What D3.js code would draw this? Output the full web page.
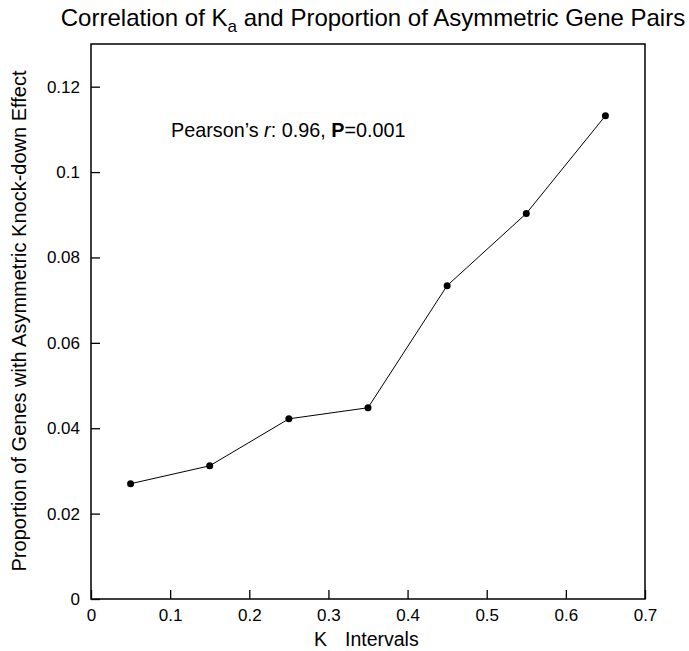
<!DOCTYPE html>
<html>
<head>
<meta charset="utf-8">
<script src="https://cdn.jsdelivr.net/npm/d3@7/dist/d3.min.js"></script>
<style>
  body { margin: 0; background: #fff; }
  text { font-family: "Liberation Sans", Arial, sans-serif; fill: #000; }
</style>
</head>
<body>
<svg width="689" height="651"></svg>
<script>
const intervals = [0.05, 0.15, 0.25, 0.35, 0.45, 0.55, 0.65];
const proportions = [0.027, 0.0312, 0.0422, 0.0448, 0.0734, 0.0903, 0.1132];
const xTicks = [0, 0.1, 0.2, 0.3, 0.4, 0.5, 0.6, 0.7];
const yTicks = [0, 0.02, 0.04, 0.06, 0.08, 0.1, 0.12];

const svg = d3.select('svg');
const margin = { top: 44, right: 44, bottom: 52, left: 91 };
const width = +svg.attr('width');
const height = +svg.attr('height');
const innerWidth = width - margin.left - margin.right;
const innerHeight = height - margin.top - margin.bottom;

const xScale = d3.scaleLinear().domain([0, 0.7]).range([0, innerWidth]);
const yScale = d3.scaleLinear().domain([0, 0.13]).range([innerHeight, 0]);

const g = svg.append('g')
    .attr('transform', `translate(${margin.left},${margin.top})`);

// frame
g.append('rect')
    .attr('width', innerWidth)
    .attr('height', innerHeight)
    .attr('fill', 'none')
    .attr('stroke', '#000')
    .attr('stroke-width', 1.5);

const styleTicks = sel => {
    sel.select('.domain').remove();
    sel.selectAll('.tick line').attr('stroke-width', 1.3);
    sel.selectAll('text')
        .style('font-size', '17px')
        .style('font-family', '"Liberation Sans", Arial, sans-serif')
        .attr('fill', '#000');
};

const xAxis = d3.axisBottom(xScale)
    .tickValues(xTicks)
    .tickFormat(d => d === 0 ? '0' : d3.format('.1f')(d))
    .tickSizeInner(-9)
    .tickSizeOuter(0)
    .tickPadding(10);

g.append('g')
    .attr('transform', `translate(0,${innerHeight})`)
    .call(xAxis)
    .call(styleTicks);

const yAxis = d3.axisLeft(yScale)
    .tickValues(yTicks)
    .tickFormat(d => d === 0 ? '0' : d3.format('~g')(d))
    .tickSizeInner(-9)
    .tickSizeOuter(0)
    .tickPadding(11);

g.append('g').call(yAxis).call(styleTicks);

// line + points
const data = intervals.map((x, i) => ({ x, y: proportions[i] }));
g.append('path')
    .datum(data)
    .attr('fill', 'none')
    .attr('stroke', '#000')
    .attr('stroke-width', 1)
    .attr('d', d3.line().x(d => xScale(d.x)).y(d => yScale(d.y)));

g.selectAll('circle').data(data)
    .enter().append('circle')
    .attr('cx', d => xScale(d.x))
    .attr('cy', d => yScale(d.y))
    .attr('r', 3.5)
    .attr('fill', '#000');

// annotation
const note = svg.append('text')
    .attr('x', 171)
    .attr('y', 137)
    .style('font-size', '19.8px');
note.append('tspan').text('Pearson’s ');
note.append('tspan').style('font-style', 'italic').text('r');
note.append('tspan').text(': 0.96, ');
note.append('tspan').style('font-weight', 'bold').text('P');
note.append('tspan').text('=0.001');

// title
const title = svg.append('text')
    .attr('x', 373)
    .attr('y', 26)
    .attr('text-anchor', 'middle')
    .style('font-size', '24px');
title.append('tspan').text('Correlation of K');
title.append('tspan').attr('dy', 6).style('font-size', '17px').text('a');
title.append('tspan').attr('dy', -6).text(' and Proportion of Asymmetric Gene Pairs');

// axis labels
const xLabel = svg.append('text')
    .attr('x', 314)
    .attr('y', 646)
    .style('font-size', '19.5px');
xLabel.append('tspan').text('K');
xLabel.append('tspan').attr('x', 345).text('Intervals');

svg.append('text')
    .attr('transform', `translate(26,321) rotate(-90)`)
    .attr('text-anchor', 'middle')
    .style('font-size', '20px')
    .text('Proportion of Genes with Asymmetric Knock-down Effect');
</script>
</body>
</html>
